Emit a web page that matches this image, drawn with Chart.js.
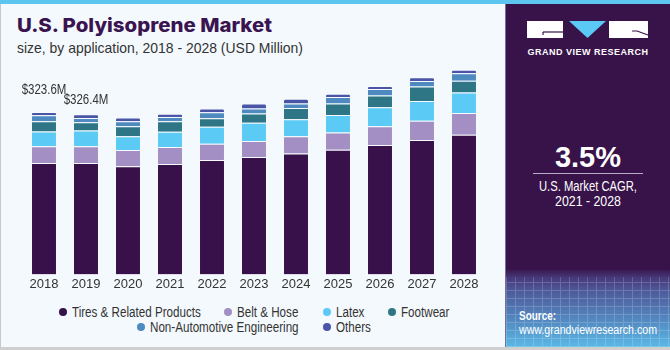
<!DOCTYPE html>
<html>
<head>
<meta charset="utf-8">
<script src="https://cdn.jsdelivr.net/npm/chart.js@4.4.1/dist/chart.umd.min.js"></script>
<style>
  html, body { margin: 0; padding: 0; }
  body { width: 670px; height: 350px; overflow: hidden; background: #f4f9fd; position: relative;
         font-family: "Liberation Sans", Arial, sans-serif; }
  #stripe { position: absolute; left: 0; top: 0; width: 670px; height: 4px; background: #5cc6f0; }
  #lborder { position: absolute; left: 0; top: 4px; width: 1px; height: 346px; background: #c8c8c8; }
  #bborder { position: absolute; left: 0; top: 347px; width: 670px; height: 3px; background: #cfcfcf; }
  .fit { display: inline-block; white-space: nowrap; transform-origin: 0 50%; }
  #title { position: absolute; left: 17px; top: 14px; font-family: Inter, "Liberation Sans", sans-serif;
           font-weight: 800; font-size: 19px; line-height: 24px; color: #3a1450; }
  #subtitle { position: absolute; left: 17px; top: 39px; font-size: 15px; line-height: 18px; color: #333; }
  #chartWrap { position: absolute; left: 0; top: 56px; width: 508px; height: 240px; }
  #legend { position: absolute; left: 0; top: 304px; width: 508px; font-size: 14px; color: #333; }
  .lrow { display: flex; justify-content: center; height: 15.5px; align-items: center; }
  .litem { display: flex; align-items: center; margin: 0 12px; white-space: nowrap; }
  .ldot { width: 8px; height: 8px; border-radius: 50%; margin-right: 5px; flex: none; }
  #panel { position: absolute; left: 505px; top: 4px; width: 164px; height: 343px; background: #381349;
           border-left: 1px solid #7a6c92; overflow: hidden; }
  #panelGrad { position: absolute; left: 0; top: 266px; width: 164px; height: 77px;
     background: linear-gradient(to bottom, #3a1a52 0px, #46397a 8px, #4d5c9c 22px, #5388c0 50px, #5ab8e6 77px); }
  #panelGrid { position: absolute; left: 0; top: 273px; width: 164px; height: 70px; opacity: 0.18;
     background-image: repeating-linear-gradient(90deg, #fff 0 1px, transparent 1px 9px),
                       repeating-linear-gradient(0deg, #fff 0 1px, transparent 1px 8px); }
  #gvr { position: absolute; left: 21px; top: 43px; width: 122px; text-align: center; color: #fff;
         font-weight: bold; font-size: 9px; letter-spacing: 0.5px; white-space: nowrap; }
  #cagr { position: absolute; left: 0; top: 136px; width: 164px; text-align: center; color: #fff;
          font-weight: bold; font-size: 29px; line-height: 34px; }
  #cagrLine { position: absolute; left: 27px; top: 169px; width: 110px; height: 1px; background: #b9aec8; }
  .cline { position: absolute; left: 0; width: 164px; text-align: center; color: #fff; font-size: 14px; line-height: 15px; }
  #source1 { position: absolute; left: 13px; top: 305px; color: #fff; font-size: 13px; font-weight: bold; line-height: 14px; }
  #source2 { position: absolute; left: 13px; top: 319px; color: #fff; font-size: 13px; line-height: 14px; }
</style>
</head>
<body>
<div id="stripe"></div>
<div id="lborder"></div>
<div id="title"><span class="fit" data-w="255">U.S. Polyisoprene Market</span></div>
<div id="subtitle"><span class="fit" data-w="286">size, by application, 2018 - 2028 (USD Million)</span></div>
<div id="chartWrap"><canvas id="c" width="508" height="240"></canvas></div>
<div id="legend"></div>
<div id="panel">
  <div id="panelGrad"></div>
  <div id="panelGrid"></div>
  <svg style="position:absolute;left:0;top:0" width="164" height="45">
    <rect x="21" y="17" width="36" height="17" fill="#ffffff"/>
    <polyline points="37,28 57,28" stroke="#381349" stroke-width="1.2" fill="none"/>
    <polyline points="37,28 37,31" stroke="#381349" stroke-width="1.2" fill="none"/>
    <polygon points="63,17 100,17 81.5,34" fill="#5bc8f5"/>
    <rect x="103" y="17" width="39" height="17" fill="#ffffff"/>
    <polyline points="126,27 131,27 142,31" stroke="#381349" stroke-width="1.2" fill="none"/>
  </svg>
  <div id="gvr">GRAND VIEW RESEARCH</div>
  <div id="cagr">3.5%</div>
  <div id="cagrLine"></div>
  <div class="cline" style="top:175px"><span class="fit" data-w="98">U.S. Market CAGR,</span></div>
  <div class="cline" style="top:190px"><span class="fit" data-w="66">2021 - 2028</span></div>
  <div id="source1"><span class="fit" data-w="37">Source:</span></div>
  <div id="source2"><span class="fit" data-w="138">www.grandviewresearch.com</span></div>
</div>
<div id="bborder"></div>
<script>
const years = ['2018','2019','2020','2021','2022','2023','2024','2025','2026','2027','2028'];
const tires    = [222, 222, 215.5, 220, 228, 234, 241, 248.5, 257.6, 267.5, 278];
const beltHose = [33, 33, 32.2, 33.6, 32.4, 31.6, 34.2, 34.2, 37.6, 38.4, 43.5];
const latex    = [29.7, 31.6, 27.7, 30.4, 33.6, 36.4, 33.6, 35, 37.6, 39.5, 40.7];
const footwear = [20.4, 16.4, 19.8, 21, 17, 18.4, 22.5, 22.9, 23.7, 28.9, 23.7];
const nonAuto  = [11.9, 8.7, 9.9, 8.7, 11.9, 9.9, 9.1, 12.6, 12.6, 10.7, 14.6];
const others   = [6.7, 7.1, 7.3, 6.5, 7.3, 9.9, 9.3, 6.5, 5.9, 7.9, 7.1];
const valueLabels = ['$323.6M', '$326.4M'];

const seriesNames = ['Tires & Related Products', 'Belt & Hose', 'Latex', 'Footwear', 'Non-Automotive Engineering', 'Others'];
const seriesColors = ['#38104a', '#a48fc4', '#5bcbf5', '#2e7585', '#4e8ac0', '#4a55a8'];
const seriesData = [tires, beltHose, latex, footwear, nonAuto, others];

const FONT = '"Liberation Sans", Arial, sans-serif';

// squeeze a text span horizontally so it matches a narrow typeface
function fitTo(el, k) {
  const w = el.getBoundingClientRect().width;
  el.style.width = (w * k) + 'px';
  el.style.transform = 'scaleX(' + k + ')';
}
document.querySelectorAll('.fit[data-w]').forEach(el => {
  const w = el.getBoundingClientRect().width;
  fitTo(el, parseFloat(el.dataset.w) / w);
});

const valueLabelPlugin = {
  id: 'valueLabels',
  afterDatasetsDraw(chart, args, opts) {
    const ctx = chart.ctx;
    const last = chart.getDatasetMeta(chart.data.datasets.length - 1);
    ctx.save();
    ctx.font = '14px ' + FONT;
    ctx.fillStyle = '#333';
    ctx.textAlign = 'center';
    ctx.textBaseline = 'middle';
    valueLabels.forEach((t, i) => {
      const bar = last.data[i];
      ctx.save();
      ctx.translate(bar.x, bar.y - opts.offsets[i]);
      ctx.scale(opts.squeeze, 1);
      ctx.fillText(t, 0, 0);
      ctx.restore();
    });
    ctx.restore();
  }
};

const chart = new Chart(document.getElementById('c'), {
  type: 'bar',
  data: {
    labels: years,
    datasets: seriesNames.map((name, i) => ({
      label: name,
      data: seriesData[i],
      backgroundColor: seriesColors[i],
      borderColor: 'rgba(255,255,255,0.3)',
      borderWidth: {top: 1, left: 0, right: 0, bottom: 0},
      borderSkipped: 'bottom',
      borderRadius: i === seriesNames.length - 1 ? {topLeft: 2, topRight: 2} : 0,
      barPercentage: 0.571,
      categoryPercentage: 1.0
    }))
  },
  options: {
    responsive: false,
    animation: false,
    layout: { padding: { left: 23, right: 23, top: 0, bottom: 2 } },
    plugins: {
      legend: { display: false },
      tooltip: { enabled: false },
      valueLabels: { offsets: [22, 14], squeeze: 0.82 }
    },
    scales: {
      x: {
        stacked: true,
        grid: { display: false, drawTicks: false },
        border: { display: false },
        ticks: { color: '#333', font: { family: FONT, size: 13 }, padding: 2, maxRotation: 0 }
      },
      y: { stacked: true, display: false, min: 0, max: 435 }
    }
  },
  plugins: [valueLabelPlugin]
});

// HTML legend built from the chart's own legend items
const items = Chart.defaults.plugins.legend.labels.generateLabels(chart);
const legendEl = document.getElementById('legend');
const rows = [items.slice(0, 4), items.slice(4)];
rows.forEach(r => {
  const row = document.createElement('div');
  row.className = 'lrow';
  r.forEach(it => {
    const d = document.createElement('div');
    d.className = 'litem';
    const dot = document.createElement('span');
    dot.className = 'ldot';
    dot.style.background = it.fillStyle;
    const tx = document.createElement('span');
    tx.className = 'fit';
    tx.textContent = it.text;
    d.appendChild(dot); d.appendChild(tx);
    row.appendChild(d);
  });
  legendEl.appendChild(row);
});
legendEl.querySelectorAll('.fit').forEach(el => fitTo(el, 0.83));
</script>
</body>
</html>
